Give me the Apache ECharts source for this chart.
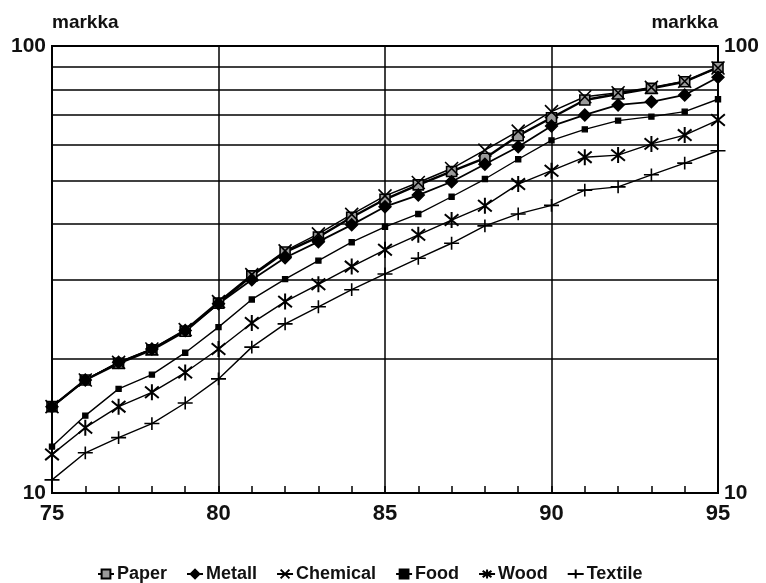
<!DOCTYPE html>
<html>
<head>
<meta charset="utf-8">
<script src="https://cdn.jsdelivr.net/npm/echarts@6/dist/echarts.min.js"></script>
<style>
html,body{margin:0;padding:0;background:#fff;}
#chart{width:766px;height:583px;}
</style>
</head>
<body>
<div id="chart"></div>
<script>
const years = [75,76,77,78,79,80,81,82,83,84,85,86,87,88,89,90,91,92,93,94,95];
const paper    = [15.6,17.9,19.5,20.9,23.0,26.6,30.6,34.6,37.4,41.4,45.4,48.9,52.4,56.1,63.0,69.1,75.7,78.1,80.4,83.2,89.6];
const metall   = [15.6,17.9,19.6,21.0,23.1,26.5,30.0,33.6,36.5,39.8,43.7,46.4,49.7,54.4,59.5,66.2,70.1,73.8,75.0,77.7,85.1];
const chemical = [15.6,17.9,19.6,21.0,23.2,26.8,30.8,34.8,38.0,42.0,46.2,49.5,53.2,58.5,64.5,71.3,77.0,78.6,80.8,83.4,89.3];
const food     = [12.7,14.9,17.1,18.4,20.6,23.5,27.1,30.1,33.1,36.4,39.4,42.1,46.0,50.4,55.8,61.5,65.1,68.1,69.5,71.3,76.0];
const wood     = [12.2,14.0,15.6,16.8,18.6,21.0,24.0,26.8,29.3,32.1,35.0,37.8,40.8,43.9,49.1,52.6,56.4,57.0,60.4,63.2,68.3];
const textile  = [10.7,12.3,13.3,14.3,15.9,18.0,21.2,23.9,26.1,28.5,30.9,33.5,36.2,39.6,42.1,44.0,47.6,48.4,51.5,54.7,58.3];
const minorGrid = [20,30,40,50,60,70,80,90];
const xGrid = [80,85,90];
const seriesNames = ['Paper','Metall','Chemical','Food','Wood','Textile'];

const pair = arr => years.map((y,i)=>[y,arr[i]]);
const chart = echarts.init(document.getElementById('chart'));
const FONT = 'Liberation Sans, Arial, sans-serif';

function lineSeries(name, data, symbol, size, width, fill, bw){
  return {
    name, type:'line', data:pair(data),
    symbol, symbolSize:size, symbolKeepAspect:true,
    lineStyle:{color:'#000', width:width},
    itemStyle:{color:fill||'#000', borderColor:'#000', borderWidth:bw||1.4},
    emphasis:{disabled:true},
    z:3
  };
}

const option = {
  animation:false,
  backgroundColor:'#fff',
  grid:{left:52, right:48, top:46, bottom:90, show:true, borderColor:'#000', borderWidth:2, backgroundColor:'transparent'},
  graphic:[
    {type:'text', left:52, top:13, style:{text:'markka', font:'bold 19px '+FONT, fill:'#111'}},
    {type:'text', right:48, top:13, style:{text:'markka', font:'bold 19px '+FONT, fill:'#111', align:'right'}}
  ],
  legend:{
    data:seriesNames, bottom:-5, left:92, itemWidth:16, itemHeight:11, itemGap:19,
    textStyle:{color:'#111', fontSize:18, fontWeight:'bold', fontFamily:FONT, padding:[0,0,0,-2]},
    selectedMode:false
  },
  xAxis:{
    type:'value', min:75, max:95, interval:1,
    axisLine:{show:true, lineStyle:{color:'#000', width:2}},
    axisTick:{show:true, inside:true, length:7, lineStyle:{color:'#000', width:1.5}},
    axisLabel:{color:'#111', fontSize:22, fontFamily:FONT, fontWeight:'bold', margin:10,
      formatter:v => (v % 5 === 0 ? String(v) : '')},
    splitLine:{show:false}
  },
  yAxis:[
    {type:'log', logBase:10, min:10, max:100, position:'left',
     axisLine:{show:true, lineStyle:{color:'#000', width:2}},
     axisTick:{show:false},
     axisLabel:{color:'#111', fontSize:21, fontFamily:FONT, fontWeight:'bold', margin:6},
     splitLine:{show:false}},
    {type:'log', logBase:10, min:10, max:100, position:'right',
     axisLine:{show:true, lineStyle:{color:'#000', width:2}},
     axisTick:{show:false},
     axisLabel:{color:'#111', fontSize:21, fontFamily:FONT, fontWeight:'bold', margin:6},
     splitLine:{show:false}}
  ],
  series:[
    {name:'grid', type:'line', data:[], silent:true, z:1,
     markLine:{silent:true, symbol:'none', label:{show:false}, z:1,
       lineStyle:{color:'#000', width:1.5, type:'solid'},
       data:minorGrid.map(v=>({yAxis:v})).concat(xGrid.map(v=>({xAxis:v})))}},
    lineSeries('Paper', paper, 'rect', 10, 2.4, '#9a9a9a', 1.6),
    lineSeries('Metall', metall, 'diamond', 12, 1.8),
    lineSeries('Chemical', chemical, 'path://M0,0L12,12M12,0L0,12', 13, 1.4, 'none', 1.6),
    lineSeries('Food', food, 'rect', 5, 1.4),
    lineSeries('Wood', wood, 'path://M0,2L12,12M12,2L0,12M6,0L6,14', 16, 1.4, 'none', 2),
    lineSeries('Textile', textile, 'path://M0,6L14,6M7,0L7,12', 15, 1.4, 'none', 1.6)
  ]
};
chart.setOption(option);
</script>
</body>
</html>
